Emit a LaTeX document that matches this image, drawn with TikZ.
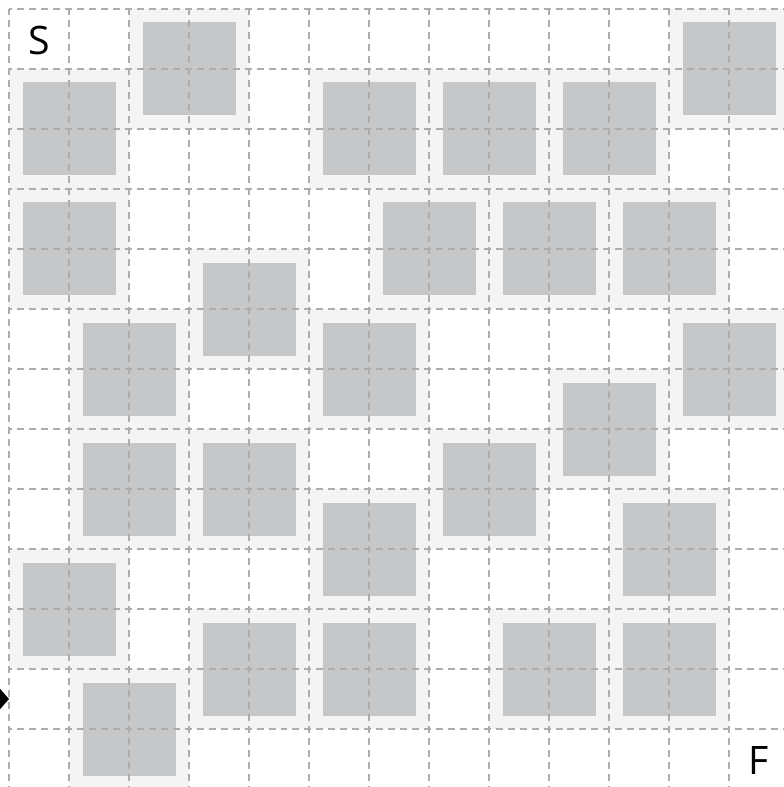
\documentclass[tikz,border=0pt]{standalone}
\usepackage{fontspec}
\setmainfont{Open Sans}
\usetikzlibrary{arrows.meta}
\definecolor{wallgray}{HTML}{C6C7C9}
\definecolor{halogray}{HTML}{F4F4F4}
\definecolor{gridgray}{HTML}{ADADAD}

\begin{document}
\begin{tikzpicture}[x=1cm, y=-1cm,
    wall/.style={draw=halogray, fill=wallgray, line width=0.225cm, minimum size=1.775cm, inner sep=0pt, outer sep=0pt},
    mazegrid/.style={draw=gridgray, line width=1pt, dash pattern=on 3.31pt off 2.36pt, dash phase=1.655pt},
    endlabel/.style={inner sep=0pt, font=\fontsize{18.6}{22}\selectfont}]
    \useasboundingbox (-0.15,-0.15) rectangle (12.9167,12.9667);

    % walls of the maze
    \node[wall] (w1) at (1,2) {};
    \node[wall] (w2) at (3,1) {};
    \node[wall] (w3) at (6,2) {};
    \node[wall] (w4) at (8,2) {};
    \node[wall] (w5) at (10,2) {};
    \node[wall] (w6) at (12,1) {};
    \node[wall] (w7) at (1,4) {};
    \node[wall] (w8) at (7,4) {};
    \node[wall] (w9) at (9,4) {};
    \node[wall] (w10) at (11,4) {};
    \node[wall] (w11) at (4,5) {};
    \node[wall] (w12) at (2,6) {};
    \node[wall] (w13) at (6,6) {};
    \node[wall] (w14) at (12,6) {};
    \node[wall] (w15) at (10,7) {};
    \node[wall] (w16) at (2,8) {};
    \node[wall] (w17) at (4,8) {};
    \node[wall] (w18) at (8,8) {};
    \node[wall] (w19) at (6,9) {};
    \node[wall] (w20) at (11,9) {};
    \node[wall] (w21) at (1,10) {};
    \node[wall] (w22) at (4,11) {};
    \node[wall] (w23) at (6,11) {};
    \node[wall] (w24) at (9,11) {};
    \node[wall] (w25) at (11,11) {};
    \node[wall] (w26) at (2,12) {};

    % grid
    \draw[mazegrid] (0,0) grid (13,13);

    \node[endlabel] (start) at (0.5,0.53) {S};
    \node[endlabel] (finish) at (12.5,12.52) {F};

    \coordinate (outside) at (-1,11.5);
    \coordinate (entry) at (0,11.5);
    \draw[-{Triangle[length=0.2cm, width=0.45cm]}, line width=0.8pt] (outside) -- (entry);
\end{tikzpicture}
\end{document}
